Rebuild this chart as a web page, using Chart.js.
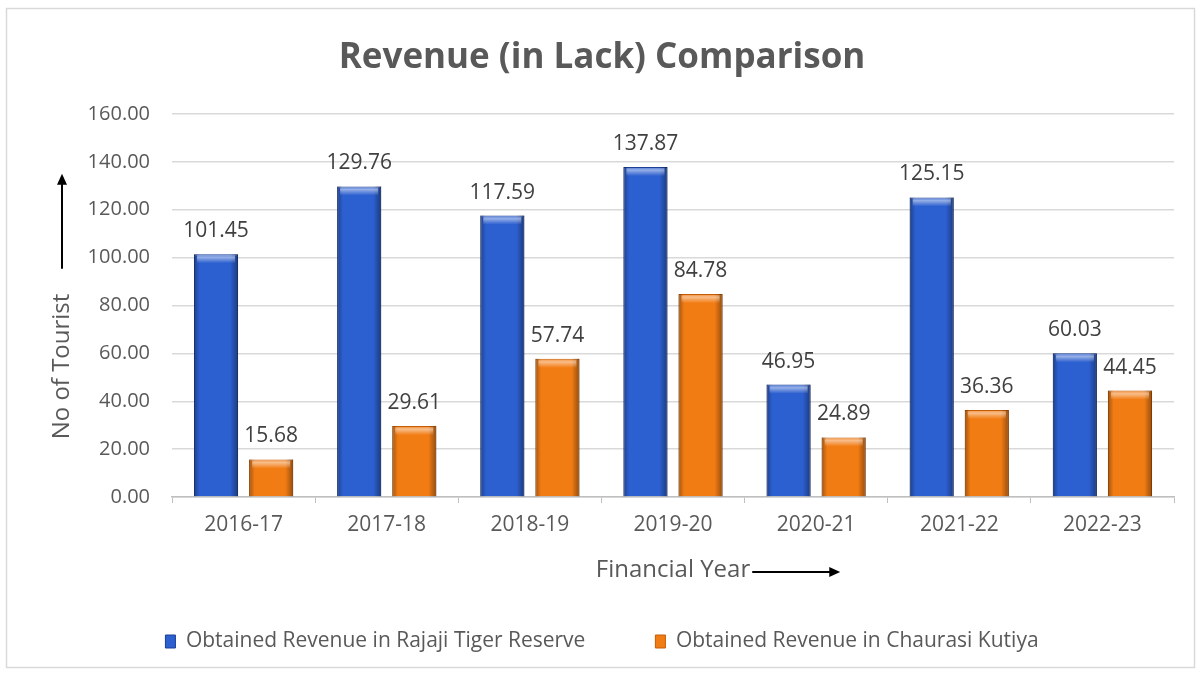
<!DOCTYPE html>
<html>
<head>
<meta charset="utf-8">
<script src="https://cdn.jsdelivr.net/npm/chart.js@4.4.1/dist/chart.umd.min.js"></script>
<style>
  html, body { margin: 0; padding: 0; background: #fff; }
  #wrap { width: 1204px; height: 677px; }
</style>
</head>
<body>
<div id="wrap"><canvas id="revenueChart" width="1204" height="677"></canvas></div>
<script>
// financial years and revenue (in lakh) for both sites
const years = ['2016-17', '2017-18', '2018-19', '2019-20', '2020-21', '2021-22', '2022-23']
const rajajiRevenue = [101.45, 129.76, 117.59, 137.87, 46.95, 125.15, 60.03]
const chaurasiRevenue = [15.68, 29.61, 57.74, 84.78, 24.89, 36.36, 44.45]
const yMax = 160
const yStep = 20

const FONT = '"Open Sans", "Noto Sans", sans-serif'
const GREY = '#595959'

// white card with a thin grey frame
const frame = {
  id: 'frame',
  beforeDraw(chart) {
    const ctx = chart.ctx
    ctx.save()
    ctx.fillStyle = '#fff'
    ctx.fillRect(0, 0, chart.width, chart.height)
    ctx.strokeStyle = '#d9d9d9'
    ctx.lineWidth = 1.5
    ctx.strokeRect(6.5, 8.5, chart.width - 16, chart.height - 18)
    ctx.restore()
  }
}

// bevel shading on each bar + value above it
const barLook = {
  id: 'barLook',
  afterDatasetsDraw(chart) {
    const ctx = chart.ctx
    ctx.save()
    chart.data.datasets.forEach((ds, di) => {
      const meta = chart.getDatasetMeta(di)
      meta.data.forEach((bar, i) => {
        const { x, y, base, width } = bar.getProps(['x', 'y', 'base', 'width'], true)
        const left = x - width / 2
        const g = ctx.createLinearGradient(left, 0, left + width, 0)
        g.addColorStop(0, 'rgba(0,0,0,0.32)')
        g.addColorStop(0.13, 'rgba(0,0,0,0)')
        g.addColorStop(0.82, 'rgba(0,0,0,0)')
        g.addColorStop(1, 'rgba(0,0,0,0.38)')
        ctx.fillStyle = g
        ctx.fillRect(left, y, width, base - y)
        const cap = ctx.createLinearGradient(0, y, 0, y + 9)
        cap.addColorStop(0, 'rgba(255,255,255,0.15)')
        cap.addColorStop(0.35, 'rgba(255,255,255,0.5)')
        cap.addColorStop(1, 'rgba(255,255,255,0)')
        ctx.fillStyle = cap
        ctx.fillRect(left + 3, y + 1, width - 6, 9)

        ctx.fillStyle = '#404040'
        ctx.font = '21px ' + FONT
        ctx.textAlign = 'center'
        ctx.textBaseline = 'alphabetic'
        ctx.fillText(ds.data[i].toFixed(2), x, y - 17)
      })
    })
    ctx.restore()
  }
}

// axis titles with their arrows
const axisTitles = {
  id: 'axisTitles',
  afterDraw(chart) {
    const ctx = chart.ctx
    const area = chart.chartArea
    ctx.save()
    ctx.fillStyle = GREY
    ctx.strokeStyle = '#000'
    ctx.lineWidth = 2
    ctx.font = '24px ' + FONT

    // x title
    const xText = 'Financial Year'
    const cx = (area.left + area.right) / 2
    const ty = 570
    ctx.textAlign = 'center'
    ctx.textBaseline = 'middle'
    ctx.fillText(xText, cx, ty)
    const xw = ctx.measureText(xText).width
    const ax0 = cx + xw / 2 + 2
    const ax1 = ax0 + 88
    ctx.beginPath()
    ctx.moveTo(ax0, ty + 2)
    ctx.lineTo(ax1 - 8, ty + 2)
    ctx.stroke()
    ctx.fillStyle = '#000'
    ctx.beginPath()
    ctx.moveTo(ax1, ty + 2)
    ctx.lineTo(ax1 - 11, ty - 3)
    ctx.lineTo(ax1 - 11, ty + 7)
    ctx.closePath()
    ctx.fill()

    // y title, rotated
    const yText = 'No of Tourist'
    const tx = 62
    const cy = (area.top + area.bottom) / 2 + 61
    const yw = ctx.measureText(yText).width
    ctx.fillStyle = GREY
    ctx.save()
    ctx.translate(tx, cy)
    ctx.rotate(-Math.PI / 2)
    ctx.fillText(yText, 0, 0)
    ctx.restore()
    const ay0 = cy - yw / 2 - 25
    const ay1 = ay0 - 95
    ctx.beginPath()
    ctx.moveTo(tx, ay0)
    ctx.lineTo(tx, ay1 + 8)
    ctx.stroke()
    ctx.fillStyle = '#000'
    ctx.beginPath()
    ctx.moveTo(tx, ay1)
    ctx.lineTo(tx - 5, ay1 + 11)
    ctx.lineTo(tx + 5, ay1 + 11)
    ctx.closePath()
    ctx.fill()
    ctx.restore()
  }
}

const revenueChart = new Chart(document.getElementById('revenueChart'), {
  type: 'bar',
  data: {
    labels: years,
    datasets: [
      {
        label: 'Obtained Revenue in Rajaji Tiger Reserve',
        data: rajajiRevenue,
        backgroundColor: '#2c5fcf',
        borderColor: '#1d3f95',
        borderWidth: 1,
        categoryPercentage: 0.77,
        barPercentage: 0.8
      },
      {
        label: 'Obtained Revenue in Chaurasi Kutiya',
        data: chaurasiRevenue,
        backgroundColor: '#f27c14',
        borderColor: '#c45c06',
        borderWidth: 1,
        categoryPercentage: 0.77,
        barPercentage: 0.8
      }
    ]
  },
  options: {
    responsive: false,
    animation: false,
    layout: { padding: { top: 10, left: 30, right: 30, bottom: 15 } },
    plugins: {
      title: {
        display: true,
        text: 'Revenue (in Lack) Comparison',
        color: GREY,
        font: { family: FONT, size: 35, weight: 'bold' },
        padding: { top: 27, bottom: 35 }
      },
      legend: {
        position: 'bottom',
        labels: {
          color: GREY,
          font: { family: FONT, size: 21 },
          boxWidth: 10,
          boxHeight: 13,
          padding: 70
        }
      },
      tooltip: { enabled: false }
    },
    scales: {
      x: {
        grid: { drawOnChartArea: false, drawTicks: true, tickLength: 6, color: '#bfbfbf' },
        border: { color: '#bfbfbf', width: 1.5 },
        ticks: { color: GREY, font: { family: FONT, size: 21 }, padding: 9 },
        afterFit(scale) { scale.height = 64 }
      },
      y: {
        min: 0,
        max: yMax,
        ticks: {
          stepSize: yStep,
          color: GREY,
          font: { family: FONT, size: 20 },
          padding: 22,
          callback: v => v.toFixed(2)
        },
        grid: { color: '#d9d9d9', lineWidth: 1.5, drawTicks: false },
        border: { display: false },
        afterFit(scale) { scale.width = 142 }
      }
    }
  },
  plugins: [frame, barLook, axisTitles]
})
</script>
</body>
</html>
